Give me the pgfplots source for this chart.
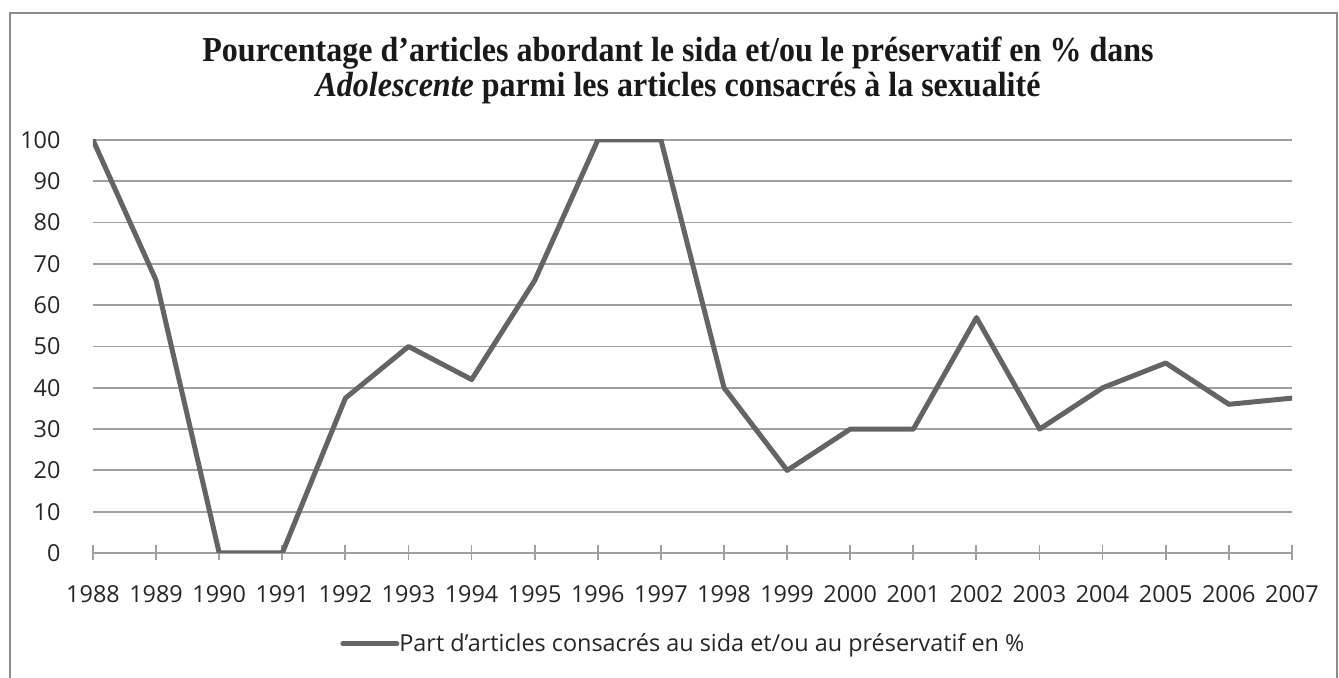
\documentclass[border=0pt]{standalone}
\usepackage{fontspec}
\usepackage{pgfplots}
\pgfplotsset{compat=1.18}
\setmainfont{Liberation Serif}
\newfontfamily\tit[FakeStretch=0.915]{Liberation Serif}
\newfontfamily\lab{Open Sans}
\definecolor{serie}{HTML}{646464}
\definecolor{grille}{HTML}{A0A0A0}
\definecolor{cadre}{HTML}{8C8C8C}
\definecolor{txt}{HTML}{262626}
\begin{document}
\begin{tikzpicture}
\path[use as bounding box] (0,0) rectangle (669.5pt,339pt);
\draw[cadre, line width=1pt] (5pt,0pt) -- (5pt,332.5pt) -- (668.5pt,332.5pt) -- (668.5pt,0pt);
\begin{axis}[
  at={(46.5pt,62.5pt)}, anchor=south west,
  scale only axis, width=599.5pt, height=206.5pt,
  xmin=1988, xmax=2007, ymin=0, ymax=100,
  xtick={1988,...,2007}, ytick={0,10,...,100},
  axis x line=bottom, axis y line*=left,
  x axis line style={grille, line width=0.9pt, -},
  y axis line style={draw=none},
  ymajorgrids, grid style={grille, line width=0.9pt},
  x tick style={grille, line width=0.9pt},
  major tick length=7.5pt, tick align=center,
  y tick style={draw=none},
  /pgf/number format/assume math mode=true,
  /pgf/number format/1000 sep={},
  tick label style={font=\lab\fontsize{11.7}{14}\selectfont, text=txt},
  xticklabel style={anchor=base, yshift=-21pt},
  yticklabel style={anchor=east, xshift=-9pt},
  legend style={at={(0.206,-0.2203)}, anchor=west, draw=none, inner sep=0pt,
    font=\lab\fontsize{11.7}{14}\selectfont, text=txt, fill=none,
    /tikz/every even column/.append style={column sep=0pt}},
  legend cell align=left,
  legend image code/.code={\draw[serie, line width=2.5pt, line cap=round] (0pt,0pt) -- (27pt,0pt);},
]
\addplot[serie, line width=2.5pt, line join=round, line cap=round] coordinates {
(1988,100) (1989,66) (1990,0) (1991,0) (1992,37.5) (1993,50) (1994,42) (1995,66)
(1996,100) (1997,100) (1998,40) (1999,20) (2000,30) (2001,30) (2002,57) (2003,30)
(2004,40) (2005,46) (2006,36) (2007,37.5)};
\addlegendentry{\hspace{-2pt}Part d’articles consacrés au sida et/ou au préservatif en \%}
\end{axis}
\node[anchor=base, font=\tit\bfseries\fontsize{17.5}{21}\selectfont, text=black!90] at (339pt,308pt)
  {Pourcentage d’articles abordant le sida et/ou le préservatif en \% dans};
\node[anchor=base, font=\tit\bfseries\fontsize{17.5}{21}\selectfont, text=black!90] at (339pt,290.5pt)
  {\textit{Adolescente} parmi les articles consacrés à la sexualité};
\end{tikzpicture}
\end{document}
